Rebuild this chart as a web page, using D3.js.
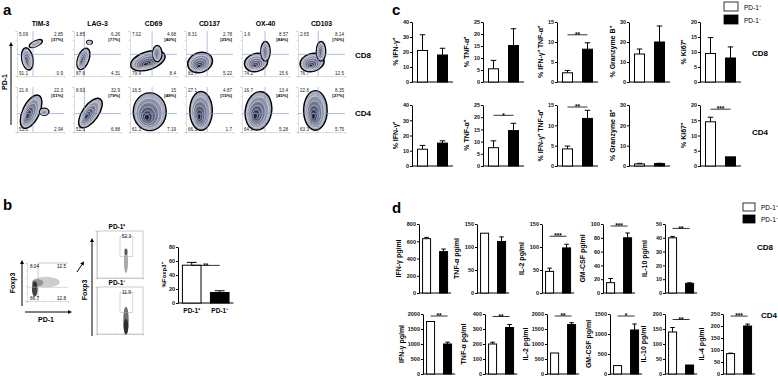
<!doctype html>
<html>
<head>
<meta charset="utf-8">
<title>PD-1 panels</title>
<script src="https://cdn.jsdelivr.net/npm/d3@7"></script>
<style>
  body { margin: 0; background: #fff; }
  svg { display: block; font-family: "Liberation Sans", Arial, sans-serif; font-weight: bold; }
  .bar .tick text { font-size: 5.5px; font-weight: bold; fill: #111; }
  .bar .tick line, .bar .domain { stroke: #000; stroke-width: 1; }
  .flow .tick line, .flow .domain { stroke: #bbb; stroke-width: 0.5; }
</style>
</head>
<body>
<script>
"use strict";

// ---------- panel a : flow plots ----------
const aMarkers = ["TIM-3", "LAG-3", "CD69", "CD137", "OX-40", "CD103"];
const aRows = ["CD8", "CD4"];
// quadrants: upper-left, upper-right, lower-left, lower-right
const aCD8Quads = [[5.09, 2.85, 91.1, 0.9], [1.85, 6.26, 87.6, 4.31], [7.02, 4.68, 79.9, 8.4],
                   [8.31, 2.78, 83.7, 5.22], [1.6, 8.57, 74.2, 15.6], [2.65, 8.14, 76.7, 12.5]];
const aCD4Quads = [[21.6, 22.3, 53.1, 2.94], [8.93, 32.9, 51.3, 6.88], [16.5, 15, 61.3, 7.19],
                   [27.1, 4.87, 66.3, 1.7], [16.7, 13.4, 64.6, 5.28], [22.6, 8.35, 63.3, 5.75]];
const aCD8Pct = ["[37%]", "[77%]", "[40%]", "[25%]", "[84%]", "[76%]"];
const aCD4Pct = ["[51%]", "[79%]", "[48%]", "[15%]", "[45%]", "[27%]"];
// gate thresholds in log decades (0-5)
const aGateX = [1.7, 1.1, 2.35, 2.25, 2.45, 2.15];
const aCD8GateY = 2.4;
const aCD4GateY = 2.05;
// population blobs: [cx, cy, rx, ry, tilt] in log decades
const aCD8Blobs = [
  [[1.1, 1.9, 0.6, 1.25, -10], [2.0, 3.6, 0.75, 0.3, -25]],
  [[1.0, 1.9, 0.6, 1.25, 20], [1.65, 3.75, 0.3, 0.2, 0]],
  [[1.9, 1.7, 1.9, 1.0, -18], [2.9, 2.5, 0.5, 0.9, 0]],
  [[1.5, 1.5, 1.35, 1.1, -20]],
  [[1.5, 1.5, 1.25, 1.0, -15], [2.5, 2.75, 0.5, 1.1, 0]],
  [[1.5, 1.5, 1.3, 1.0, -15], [2.45, 2.75, 0.5, 1.1, 0]]
];
const aCD4Blobs = [
  [[1.5, 2.25, 0.9, 2.0, 25], [2.9, 2.25, 0.5, 0.4, 0]],
  [[1.75, 2.1, 0.85, 1.9, 35]],
  [[2.1, 2.25, 1.75, 2.1, 0]],
  [[1.6, 2.35, 1.2, 2.15, 0]],
  [[1.75, 2.35, 1.4, 2.15, 10]],
  [[1.85, 2.4, 1.25, 2.2, 0]]
];

// ---------- panel b ----------
const bGroups = ["PD-1⁺", "PD-1⁻"];
const bFoxp3 = [54, 15];
const bFoxp3Err = [4, 2.5];
const bQuads = [8.04, 12.5, 66.7, 12.8];
const bSubPct = ["52.3", "11.9"];
const bMainBlobs = [[2.3, 2.5, 1.7, 0.7, 0, "#c4c4c4"], [1.3, 2.4, 0.7, 0.45, 0, "#8a8a8a"], [0.95, 1.6, 0.35, 1.0, 0, "#222"]];
const bSubBlobs = [
  [[3.15, 1.7, 0.22, 1.2, 0, "#9a9a9a"], [3.15, 2.8, 0.17, 0.35, 0, "#444"]],
  [[3.15, 1.4, 0.3, 1.5, 0, "#555"], [3.15, 0.8, 0.25, 0.8, 0, "#222"]]
];
const bSubGate = [[2.5, 3.9, 2.3, 4.4], [2.5, 3.9, 2.3, 4.4]];

// ---------- panel c ----------
const cLabels = ["% IFN-γ⁺", "% TNF-α⁺", "% IFN-γ⁺ TNF-α⁺", "% Granzyme B⁺", "% Ki67⁺"];
const cMax = [40, 25, 15, 30, 20];
const cStep = [10, 5, 5, 10, 5];
const cCD8Pos = [21, 5.5, 2.3, 14, 9.5];
const cCD8PosErr = [10.5, 3.5, 0.6, 2.5, 5.3];
const cCD8Neg = [18, 15.2, 8.2, 20, 8];
const cCD8NegErr = [4.5, 7, 1.6, 8, 3.7];
const cCD8Sig = ["", "", "**", "", ""];
const cCD4Pos = [11, 7.5, 4.2, 1, 14.5];
const cCD4PosErr = [2.5, 2.8, 0.7, 0.3, 1.5];
const cCD4Neg = [15, 14.5, 11.7, 1.2, 3];
const cCD4NegErr = [1.5, 3, 2, 0.15, 0];
const cCD4Sig = ["", "*", "**", "", "***"];

// ---------- panel d ----------
const dCD8Labels = ["IFN-γ pg/ml", "TNF-α pg/ml", "IL-2 pg/ml", "GM-CSF pg/ml", "IL-10 pg/ml"];
const dCD8Max = [800, 150, 150, 100, 50];
const dCD8Step = [200, 50, 50, 20, 10];
const dCD8Pos = [630, 130, 47, 15, 40];
const dCD8PosErr = [15, 0, 7, 6, 1];
const dCD8Neg = [480, 112, 98, 80, 7];
const dCD8NegErr = [30, 10, 8, 7, 0.4];
const dCD8Sig = ["", "", "***", "***", "**"];
const dCD4Labels = ["IFN-γ pg/ml", "TNF-α pg/ml", "IL-2 pg/ml", "GM-CSF pg/ml", "IL-10 pg/ml", "IL-4 pg/ml"];
const dCD4Max = [2000, 400, 2000, 1500, 200, 250];
const dCD4Step = [500, 100, 500, 500, 50, 50];
const dCD4Pos = [1750, 200, 700, 210, 140, 85];
const dCD4PosErr = [0, 12, 0, 0, 15, 2];
const dCD4Neg = [1000, 310, 1650, 1100, 30, 200];
const dCD4NegErr = [60, 20, 60, 150, 0, 8];
const dCD4Sig = ["**", "**", "**", "*", "**", "***"];

const width = 778;
const height = 377;

const svg = d3.select("body").append("svg")
    .attr("width", width)
    .attr("height", height)
    .attr("viewBox", [0, 0, width, height]);

svg.append("defs").append("marker")
    .attr("id", "arrow")
    .attr("viewBox", "0 0 10 10")
    .attr("refX", 5).attr("refY", 5)
    .attr("markerWidth", 4).attr("markerHeight", 4)
    .attr("orient", "auto-start-reverse")
    .append("path")
    .attr("d", "M0,0L10,5L0,10z")
    .attr("fill", "#000");

function letter(x, y, t) {
    svg.append("text").attr("x", x).attr("y", y)
        .attr("font-size", 15).attr("font-weight", "bold").text(t);
}

// draws one contour-like population
function blob(g, xs, ys, b, ringed) {
    const cx = xs(b[0]), cy = ys(b[1]);
    const rx = Math.abs(xs(b[2]) - xs(0)), ry = Math.abs(ys(b[3]) - ys(0));
    if (!ringed) {
        g.append("ellipse").attr("cx", cx).attr("cy", cy).attr("rx", rx).attr("ry", ry)
            .attr("transform", `rotate(${b[4]},${cx},${cy})`)
            .attr("fill", b[5]).attr("opacity", 0.85);
        return;
    }
    const levels = [1, 0.8, 0.62, 0.45, 0.3, 0.16];
    const col = d3.interpolateRgb("#a9adbf", "#1b2040");
    levels.forEach((k, i) => {
        const dy = (1 - k) * ry * 0.35;
        g.append("ellipse")
            .attr("cx", cx - (1 - k) * rx * 0.2).attr("cy", cy + dy)
            .attr("rx", rx * k).attr("ry", ry * k)
            .attr("transform", `rotate(${b[4]},${cx},${cy})`)
            .attr("fill", col(i / (levels.length - 1)))
            .attr("stroke", i === 0 ? "#000" : "#fff")
            .attr("stroke-width", i === 0 ? 1.4 : 0.45);
    });
}

function flowFrame(g, x0, y0, w, h) {
    const xs = d3.scaleLinear().domain([0, 5]).range([x0, x0 + w]);
    const ys = d3.scaleLinear().domain([0, 5]).range([y0 + h, y0]);
    g.append("g").attr("class", "flow").attr("transform", `translate(0,${y0 + h})`)
        .call(d3.axisBottom(xs).ticks(5).tickSize(1.5).tickFormat(""));
    g.append("g").attr("class", "flow").attr("transform", `translate(${x0},0)`)
        .call(d3.axisLeft(ys).ticks(5).tickSize(1.5).tickFormat(""));
    return [xs, ys];
}

// ---------------- panel a ----------------
letter(3, 15, "a");
const aX0 = [17, 74, 130, 186, 242, 298];
const aY0 = [31, 87];
const aW = 47, aH = 45;
const ga = svg.append("g");

aMarkers.forEach((m, i) => {
    ga.append("text").attr("x", aX0[i] + aW / 2).attr("y", 26)
        .attr("text-anchor", "middle").attr("font-size", 6.8).text(m);
});

aRows.forEach((row, r) => {
    const quads = r === 0 ? aCD8Quads : aCD4Quads;
    const pct = r === 0 ? aCD8Pct : aCD4Pct;
    const blobs = r === 0 ? aCD8Blobs : aCD4Blobs;
    const gy = r === 0 ? aCD8GateY : aCD4GateY;
    aMarkers.forEach((m, i) => {
        const x0 = aX0[i], y0 = aY0[r];
        const g = ga.append("g");
        const [xs, ys] = flowFrame(g, x0, y0, aW, aH);
        blobs[i].forEach(b => blob(g, xs, ys, b, true));
        g.append("line").attr("x1", xs(aGateX[i])).attr("x2", xs(aGateX[i]))
            .attr("y1", ys(5)).attr("y2", ys(0)).attr("stroke", "#7f93c9").attr("stroke-width", 0.6);
        g.append("line").attr("x1", xs(0)).attr("x2", xs(5))
            .attr("y1", ys(gy)).attr("y2", ys(gy)).attr("stroke", "#7f93c9").attr("stroke-width", 0.6);
        const q = quads[i];
        const t = (x, y, s, anchor, fs) => g.append("text").attr("x", x).attr("y", y)
            .attr("text-anchor", anchor).attr("font-size", fs || 4.6)
            .attr("font-weight", "normal").attr("fill", "#222").text(s);
        t(x0 + 2, y0 + 5, q[0], "start");
        t(x0 + aW - 1, y0 + 5, q[1], "end");
        t(x0 + aW - 1, y0 + 10, pct[i], "end", 4.4).attr("font-weight", "bold").attr("fill", "#000");
        t(x0 + 2, y0 + aH - 1.5, q[2], "start");
        t(x0 + aW - 1, y0 + aH - 1.5, q[3], "end");
    });
    ga.append("text").attr("x", 355).attr("y", r === 0 ? 58 : 116)
        .attr("font-size", 8).text(row);
});

ga.append("line").attr("x1", 11).attr("x2", 11).attr("y1", 125).attr("y2", 44)
    .attr("stroke", "#000").attr("stroke-width", 1).attr("marker-end", "url(#arrow)");
ga.append("text").attr("transform", "translate(7,82) rotate(-90)")
    .attr("text-anchor", "middle").attr("font-size", 7).text("PD-1");

// ---------------- panel b ----------------
letter(3, 210, "b");
const gb = svg.append("g");
{
    const x0 = 27, y0 = 263, w = 41, h = 38;
    const [xs, ys] = flowFrame(gb, x0, y0, w, h);
    bMainBlobs.forEach(b => blob(gb, xs, ys, b, false));
    gb.append("line").attr("x1", xs(1.35)).attr("x2", xs(1.35)).attr("y1", ys(5)).attr("y2", ys(0))
        .attr("stroke", "#999").attr("stroke-width", 0.5);
    gb.append("line").attr("x1", xs(1.35)).attr("x2", xs(5)).attr("y1", ys(5)).attr("y2", ys(5))
        .attr("stroke", "#999").attr("stroke-width", 0.5);
    gb.append("line").attr("x1", xs(0)).attr("x2", xs(5)).attr("y1", ys(1.8)).attr("y2", ys(1.8))
        .attr("stroke", "#9fb0d8").attr("stroke-width", 0.5);
    const t = (x, y, s, anchor) => gb.append("text").attr("x", x).attr("y", y)
        .attr("text-anchor", anchor).attr("font-size", 4.6).attr("font-weight", "normal").text(s);
    t(x0 + 3, y0 + 5, bQuads[0], "start");
    t(x0 + w - 2, y0 + 5, bQuads[1], "end");
    t(x0 + 3, y0 + h - 1.5, bQuads[2], "start");
    t(x0 + w - 2, y0 + h - 1.5, bQuads[3], "end");
    gb.append("line").attr("x1", 22).attr("x2", 22).attr("y1", 306).attr("y2", 262)
        .attr("stroke", "#000").attr("stroke-width", 1).attr("marker-end", "url(#arrow)");
    gb.append("line").attr("x1", 25).attr("x2", 70).attr("y1", 312).attr("y2", 312)
        .attr("stroke", "#000").attr("stroke-width", 1).attr("marker-end", "url(#arrow)");
    gb.append("text").attr("x", 46).attr("y", 322).attr("text-anchor", "middle").attr("font-size", 7).text("PD-1");
    gb.append("text").attr("transform", "translate(15,283) rotate(-90)")
        .attr("text-anchor", "middle").attr("font-size", 7).text("Foxp3");
    gb.append("line").attr("x1", 77).attr("x2", 83).attr("y1", 272).attr("y2", 263)
        .attr("stroke", "#000").attr("stroke-width", 1).attr("marker-end", "url(#arrow)");

    // two gated sub plots
    [231, 287].forEach((sy, k) => {
        const sx = 97, sw = 46, sh = 47;
        const g = gb.append("g");
        g.append("rect").attr("x", sx).attr("y", sy).attr("width", sw).attr("height", sh)
            .attr("fill", "none").attr("stroke", "#999").attr("stroke-width", 0.5);
        const [xs2, ys2] = flowFrame(g, sx, sy, sw, sh);
        bSubBlobs[k].forEach(b => blob(g, xs2, ys2, b, false));
        const gt = bSubGate[k];
        g.append("rect").attr("x", xs2(gt[0])).attr("y", ys2(gt[3]))
            .attr("width", xs2(gt[1]) - xs2(gt[0])).attr("height", ys2(gt[2]) - ys2(gt[3]))
            .attr("fill", "none").attr("stroke", "#9fb0d8").attr("stroke-width", 0.5);
        g.append("text").attr("x", xs2(3.2)).attr("y", sy + 7).attr("text-anchor", "middle")
            .attr("font-size", 4.8).attr("font-weight", "normal").text(bSubPct[k]);
        g.append("text").attr("x", sx + sw / 2 - 3).attr("y", sy - 2).attr("text-anchor", "middle")
            .attr("font-size", 6.5).text(bGroups[k]);
    });
    gb.append("line").attr("x1", 92).attr("x2", 92).attr("y1", 336).attr("y2", 240)
        .attr("stroke", "#000").attr("stroke-width", 1).attr("marker-end", "url(#arrow)");
    gb.append("text").attr("transform", "translate(87,290) rotate(-90)")
        .attr("text-anchor", "middle").attr("font-size", 7).text("Foxp3");
}

// ---------------- bar chart helper ----------------
function barChart(o) {
    const g = svg.append("g").attr("class", "bar");
    const y = d3.scaleLinear().domain([0, o.max]).range([o.zero, o.top]);
    const len = o.step * (2 - o.pin + 2 * o.pout);
    const x = d3.scaleBand().domain(bGroups).range([o.ox, o.ox + len])
        .paddingInner(o.pin).paddingOuter(o.pout);
    const vals = [o.pos, o.neg];
    const errs = [o.posErr, o.negErr];

    g.append("g").attr("transform", `translate(${o.ox},0)`)
        .call(d3.axisLeft(y).tickValues(d3.range(0, o.max + o.tick / 2, o.tick))
            .tickFormat(d3.format("d"))
            .tickSize(2).tickSizeOuter(0).tickPadding(1));
    g.append("line").attr("x1", o.ox).attr("x2", o.ox + len)
        .attr("y1", o.zero).attr("y2", o.zero).attr("stroke", "#000").attr("stroke-width", 1);

    bGroups.forEach((grp, i) => {
        const bx = x(grp), bw = x.bandwidth();
        const top = y(vals[i] + errs[i]);
        if (errs[i] > 0) {
            g.append("line").attr("x1", bx + bw / 2).attr("x2", bx + bw / 2)
                .attr("y1", y(vals[i])).attr("y2", top).attr("stroke", "#000").attr("stroke-width", 1);
            g.append("line").attr("x1", bx + bw * 0.25).attr("x2", bx + bw * 0.75)
                .attr("y1", top).attr("y2", top).attr("stroke", "#000").attr("stroke-width", 1);
        }
        g.append("rect").attr("x", bx + 0.5).attr("y", y(vals[i]))
            .attr("width", bw - 1).attr("height", o.zero - y(vals[i]))
            .attr("fill", i === 0 ? "#fff" : "#000")
            .attr("stroke", "#000").attr("stroke-width", 1);
    });

    if (o.sig) {
        const hi = Math.max(o.pos + o.posErr, o.neg + o.negErr);
        const ly = o.sigGap !== undefined ? y(hi) + o.sigGap : Math.max(o.top + 2, y(hi) - 8);
        const x1 = x(bGroups[0]) + x.bandwidth() / 2, x2 = x(bGroups[1]) + x.bandwidth() / 2;
        g.append("line").attr("x1", x1).attr("x2", x2).attr("y1", ly).attr("y2", ly)
            .attr("stroke", "#000").attr("stroke-width", 0.8);
        g.append("text").attr("x", (x1 + x2) / 2).attr("y", ly + 2.2).attr("text-anchor", "middle")
            .attr("font-size", 6.5).text(o.sig);
    }

    g.append("text")
        .attr("transform", `translate(${o.ox - o.labelOff},${(o.top + o.zero) / 2}) rotate(-90)`)
        .attr("text-anchor", "middle").attr("font-size", o.labelSize).text(o.label);

    if (o.xLabels) {
        bGroups.forEach(grp => {
            g.append("text").attr("x", x(grp) + x.bandwidth() / 2).attr("y", o.zero + 10)
                .attr("text-anchor", "middle").attr("font-size", 6.5).text(grp);
        });
    }
}

// panel b bars
barChart({
    ox: 178, top: 247, zero: 303, max: 80, tick: 20,
    step: 28, pin: 0.3, pout: 0.14,
    pos: bFoxp3[0], posErr: bFoxp3Err[0], neg: bFoxp3[1], negErr: bFoxp3Err[1],
    sig: "**", sigGap: 3, label: "%Foxp3⁺", labelOff: 12, labelSize: 6, xLabels: true
});

// ---------------- panel c ----------------
letter(392, 15, "c");
const cAxisX = [412, 483, 557, 629, 700];
[[22, 82], [105, 166]].forEach(([top, zero], r) => {
    const pos = r === 0 ? cCD8Pos : cCD4Pos, posE = r === 0 ? cCD8PosErr : cCD4PosErr;
    const neg = r === 0 ? cCD8Neg : cCD4Neg, negE = r === 0 ? cCD8NegErr : cCD4NegErr;
    const sig = r === 0 ? cCD8Sig : cCD4Sig;
    cLabels.forEach((lab, i) => {
        barChart({
            ox: cAxisX[i], top, zero, max: cMax[i], tick: cStep[i],
            step: 20, pin: 0.45, pout: 0.25,
            pos: pos[i], posErr: posE[i], neg: neg[i], negErr: negE[i],
            sig: sig[i], label: lab, labelOff: 14, labelSize: 7
        });
    });
    svg.append("text").attr("x", 752).attr("y", r === 0 ? 56 : 135).attr("font-size", 8).text(aRows[r]);
});

function legend(x, y, w, h, gap) {
    bGroups.forEach((grp, i) => {
        svg.append("rect").attr("x", x).attr("y", y + i * gap).attr("width", w).attr("height", h)
            .attr("fill", i === 0 ? "#fff" : "#000").attr("stroke", "#000").attr("stroke-width", 0.8);
        svg.append("text").attr("x", x + w + 6).attr("y", y + i * gap + h - 1.5)
            .attr("font-size", 6.5).attr("font-weight", "normal").text(grp);
    });
}
legend(724, 2, 14, 9, 13);

// ---------------- panel d ----------------
letter(392, 213, "d");
legend(743, 203, 12, 8, 12);
const dCD8AxisX = [419, 477, 542, 603, 665];
dCD8Labels.forEach((lab, i) => {
    barChart({
        ox: dCD8AxisX[i], top: 224, zero: 293, max: dCD8Max[i], tick: dCD8Step[i],
        step: 17, pin: 0.47, pout: 0.18,
        pos: dCD8Pos[i], posErr: dCD8PosErr[i], neg: dCD8Neg[i], negErr: dCD8NegErr[i],
        sig: dCD8Sig[i], label: lab, labelOff: 18, labelSize: 7
    });
});
svg.append("text").attr("x", 757).attr("y", 250).attr("font-size", 8).text("CD8");

const dCD4AxisX = [423, 485, 547, 610, 665, 723];
dCD4Labels.forEach((lab, i) => {
    barChart({
        ox: dCD4AxisX[i], top: 314, zero: 374, max: dCD4Max[i], tick: dCD4Step[i],
        step: 17, pin: 0.47, pout: 0.18,
        pos: dCD4Pos[i], posErr: dCD4PosErr[i], neg: dCD4Neg[i], negErr: dCD4NegErr[i],
        sig: dCD4Sig[i], label: lab, labelOff: 19, labelSize: 7
    });
});
svg.append("text").attr("x", 761).attr("y", 318).attr("font-size", 8).text("CD4");
</script>
</body>
</html>
